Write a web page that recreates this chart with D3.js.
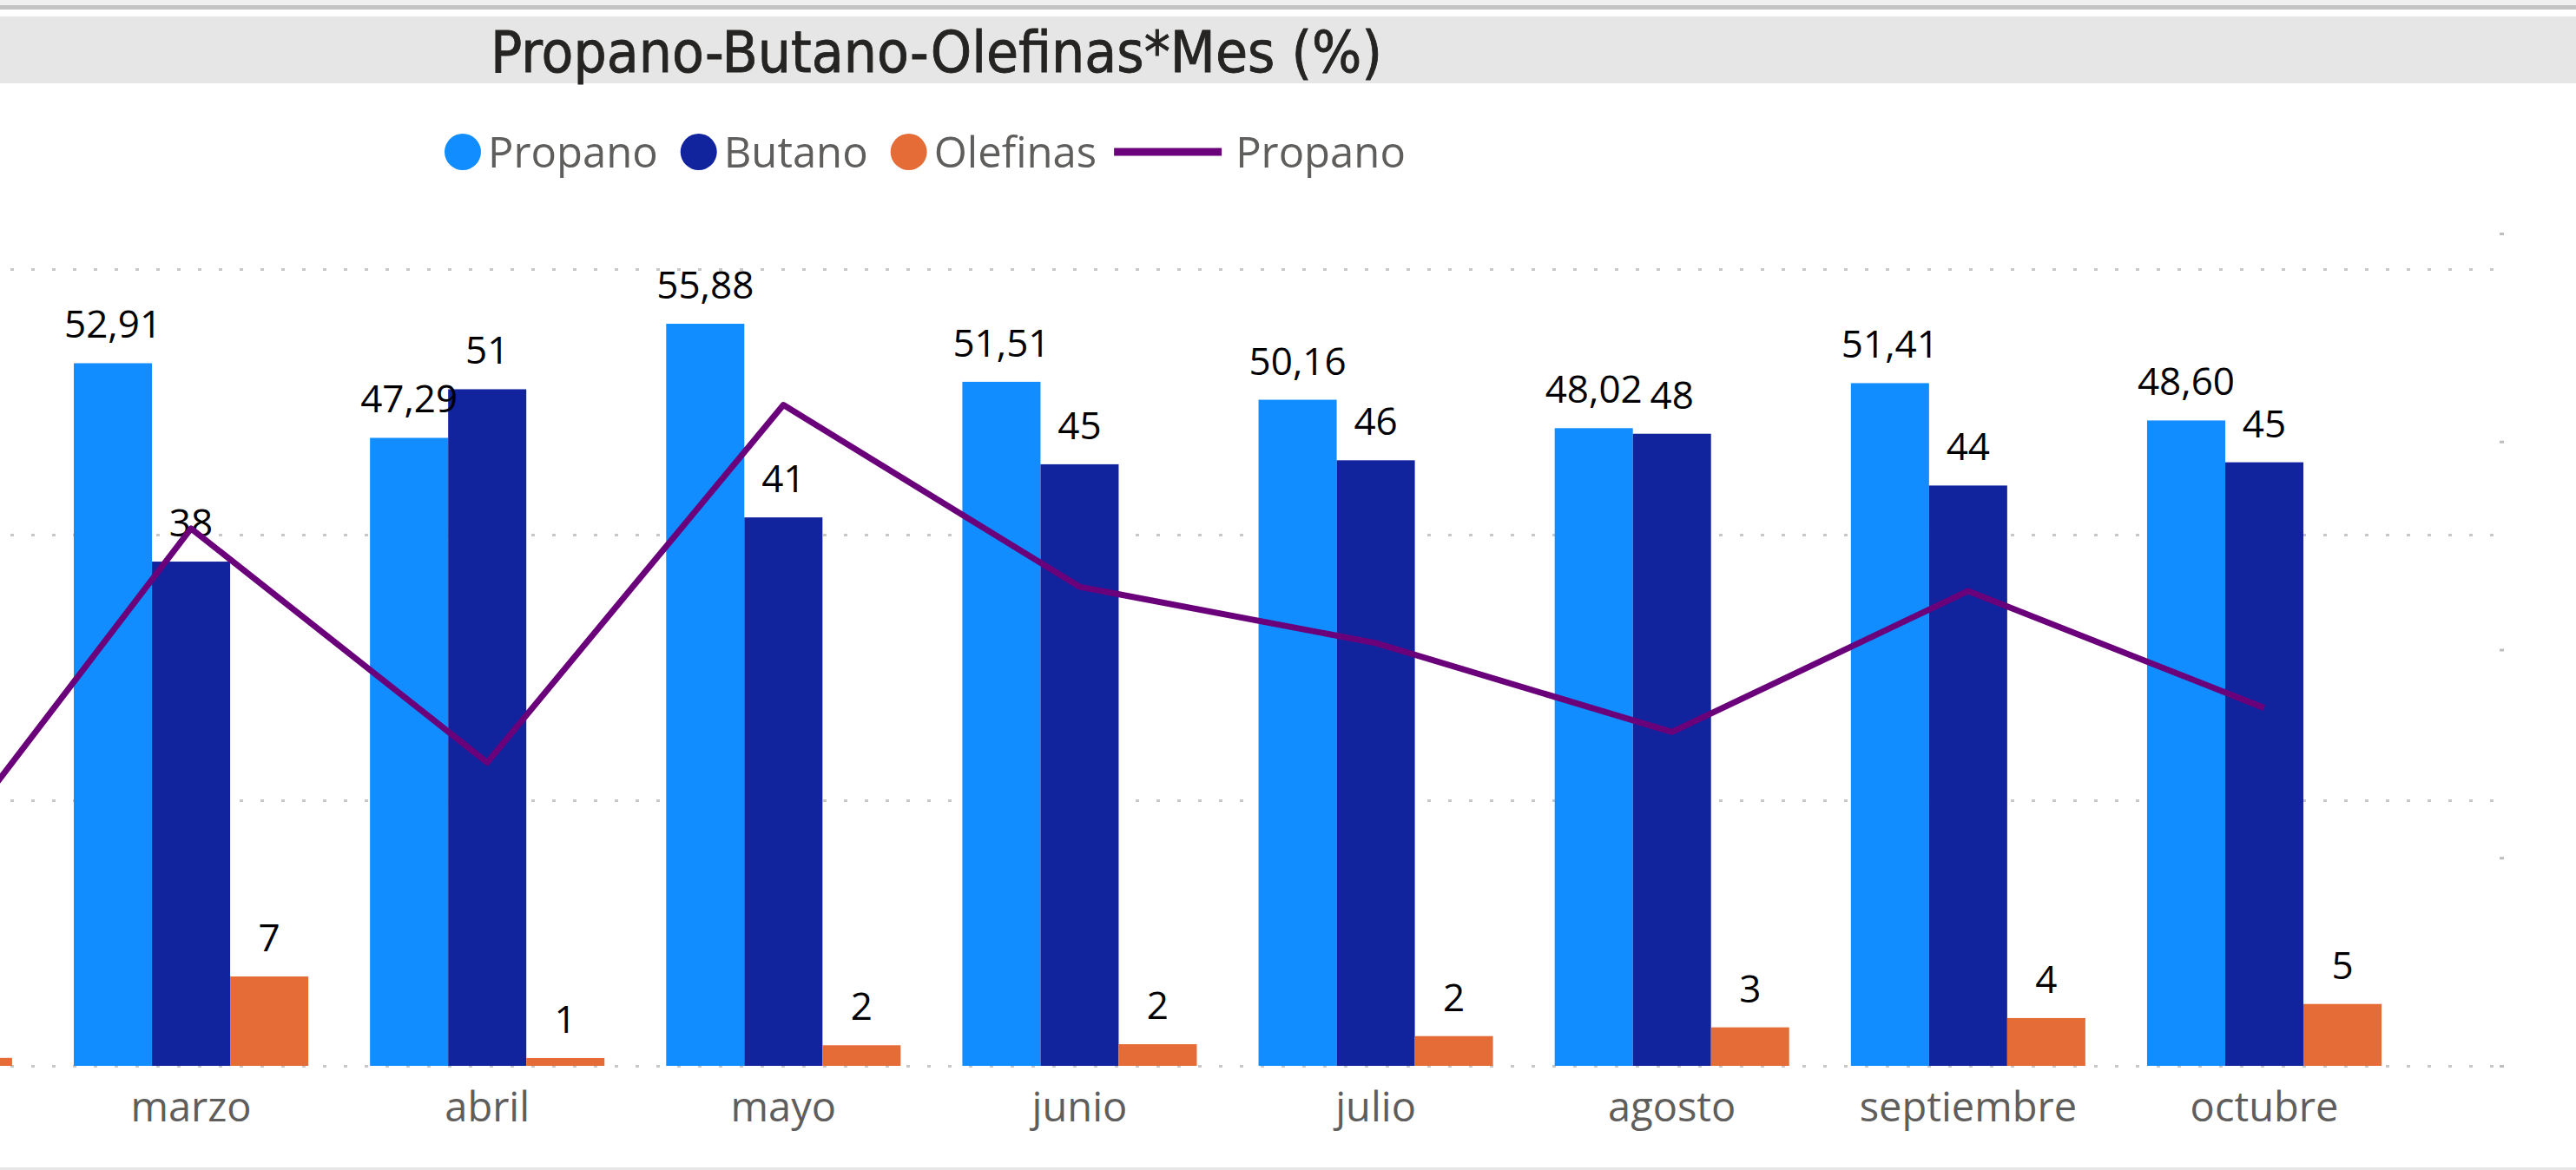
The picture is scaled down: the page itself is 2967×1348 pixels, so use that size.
<!DOCTYPE html>
<html>
<head>
<meta charset="utf-8">
<script src="https://cdn.jsdelivr.net/npm/d3@7"></script>
<style>
  body { margin: 0; background: #fff; overflow: hidden; }
  svg { display: block; }
</style>
</head>
<body>
<svg id="chart"></svg>
<script>
// data (febrero is mostly scrolled off the left edge)
const months = ['febrero', 'marzo', 'abril', 'mayo', 'junio', 'julio', 'agosto', 'septiembre', 'octubre'];
const propano = [43.6, 52.91, 47.29, 55.88, 51.51, 50.16, 48.02, 51.41, 48.60];
const butano = [55.2, 37.97, 50.95, 41.3, 45.3, 45.6, 47.6, 43.7, 45.45];
const olefinas = [0.6, 6.73, 0.59, 1.55, 1.63, 2.24, 2.9, 3.6, 4.66];
const seriesNames = ['Propano', 'Butano', 'Olefinas'];
const leftTicks = [0, 20, 40, 60];
const rightTicks = [40, 45, 50, 55, 60];
const titleText = 'Propano-Butano-Olefinas*Mes (%)';

const colors = { Propano: '#118DFF', Butano: '#12239E', Olefinas: '#E66C37', line: '#6B007B' };

const W = 2967, H = 1348;
const plot = { top: 269, bottom: 1228, right: 2872 };
const labelFont = "'Open Sans', 'Noto Sans', sans-serif";

const svg = d3.select('#chart').attr('width', W).attr('height', H);

// window chrome + title bar
svg.append('rect').attr('x', 0).attr('y', 0).attr('width', W).attr('height', 6).attr('fill', '#f0f0f0');
svg.append('rect').attr('x', 0).attr('y', 6).attr('width', W).attr('height', 5).attr('fill', '#c4c4c4');
svg.append('rect').attr('x', 0).attr('y', 19).attr('width', W).attr('height', 77).attr('fill', '#e6e6e6');
svg.append('rect').attr('x', 0).attr('y', 1345).attr('width', W).attr('height', 3).attr('fill', '#e6e6e6');

svg.append('text')
    .attr('x', 565)
    .attr('y', 83)
    .attr('textLength', 1027)
    .attr('lengthAdjust', 'spacingAndGlyphs')
    .style('font-family', "'DejaVu Sans Condensed', 'Liberation Sans Narrow', 'Roboto', sans-serif")
    .style('font-size', '65px')
    .attr('fill', '#252423')
    .attr('stroke', '#252423')
    .attr('stroke-width', 0.8)
    .text(titleText);

// scales
const x = d3.scaleBand()
    .domain(months)
    .range([-291.65, 2778.55])
    .paddingInner(0.2084)
    .paddingOuter(0.1042);

const xSub = d3.scaleBand()
    .domain(seriesNames)
    .range([0, x.bandwidth()]);

const y = d3.scaleLinear().domain([0, 62.68]).range([plot.bottom, plot.top]);
const y2 = d3.scaleLinear().domain([40, 60]).range([plot.bottom, plot.top]);

// months whose centre is scrolled out of view get no text
const visible = m => x(m) + x.bandwidth() / 2 > 0;

// dotted gridlines from the primary axis
const grid = svg.append('g')
    .call(d3.axisRight(y).tickValues(leftTicks).tickSize(plot.right).tickFormat(''));
grid.select('.domain').remove();
grid.selectAll('line')
    .attr('stroke', '#c8c8c8')
    .attr('stroke-width', 3)
    .attr('stroke-dasharray', '4 20')
    .attr('stroke-dashoffset', 12);

// secondary axis: only tiny tick marks on the right
const yRight = svg.append('g')
    .attr('transform', 'translate(2879,0)')
    .call(d3.axisRight(y2).tickValues(rightTicks).tickSize(5).tickFormat(''));
yRight.select('.domain').remove();
yRight.selectAll('line').attr('stroke', '#bdbdbd').attr('stroke-width', 3);

// x axis labels
const xAxisG = svg.append('g')
    .attr('transform', `translate(0,${plot.bottom})`)
    .call(d3.axisBottom(x).tickValues(months.filter(visible)).tickSize(0));
xAxisG.select('.domain').remove();
xAxisG.selectAll('text')
    .attr('y', 64)
    .attr('dy', 0)
    .attr('fill', '#605E5C')
    .style('font-family', labelFont)
    .style('font-size', '47px');

// bars
const rows = months.map((m, i) => ({
    month: m,
    values: [
        { key: 'Propano', value: propano[i] },
        { key: 'Butano', value: butano[i] },
        { key: 'Olefinas', value: olefinas[i] }
    ]
}));

const groups = svg.append('g').selectAll('g')
    .data(rows)
    .join('g')
    .attr('transform', d => `translate(${x(d.month)},0)`);

groups.selectAll('rect')
    .data(d => d.values)
    .join('rect')
    .attr('x', d => xSub(d.key))
    .attr('width', xSub.bandwidth())
    .attr('y', d => y(d.value))
    .attr('height', d => y(0) - y(d.value))
    .attr('fill', d => colors[d.key]);

// data labels
const fmt2 = v => d3.format('.2f')(v).replace('.', ',');
const fmt0 = d3.format('.0f');

groups.filter(d => visible(d.month)).selectAll('text')
    .data(d => d.values)
    .join('text')
    .attr('x', d => xSub(d.key) + xSub.bandwidth() / 2)
    .attr('y', d => y(d.value) - 29)
    .attr('text-anchor', 'middle')
    .attr('fill', '#000')
    .style('font-family', labelFont)
    .style('font-size', '44px')
    .text(d => d.key === 'Propano' ? fmt2(d.value) : fmt0(d.value));

// Propano line on the secondary axis
const line = d3.line()
    .x((d, i) => x(months[i]) + x.bandwidth() / 2)
    .y(d => y2(d));

svg.append('path')
    .datum(propano)
    .attr('d', line)
    .attr('fill', 'none')
    .attr('stroke', colors.line)
    .attr('stroke-width', 7)
    .attr('stroke-linejoin', 'round');

// legend
const legend = svg.append('g').attr('transform', 'translate(0,175)');
let lx = 533;
seriesNames.forEach(name => {
    legend.append('circle')
        .attr('cx', lx)
        .attr('cy', 0)
        .attr('r', 21)
        .attr('fill', colors[name]);
    const t = legend.append('text')
        .attr('x', lx + 29)
        .attr('y', 18)
        .attr('fill', '#605E5C')
        .style('font-family', labelFont)
        .style('font-size', '49px')
        .text(name);
    lx = lx + 29 + t.node().getComputedTextLength() + 47;
});
// line entry
let lineStart = lx - 47 + 20;
legend.append('line')
    .attr('x1', lineStart)
    .attr('x2', lineStart + 124)
    .attr('y1', 0)
    .attr('y2', 0)
    .attr('stroke', colors.line)
    .attr('stroke-width', 9);
legend.append('text')
    .attr('x', lineStart + 140)
    .attr('y', 18)
    .attr('fill', '#605E5C')
    .style('font-family', labelFont)
    .style('font-size', '49px')
    .text('Propano');
</script>
</body>
</html>
